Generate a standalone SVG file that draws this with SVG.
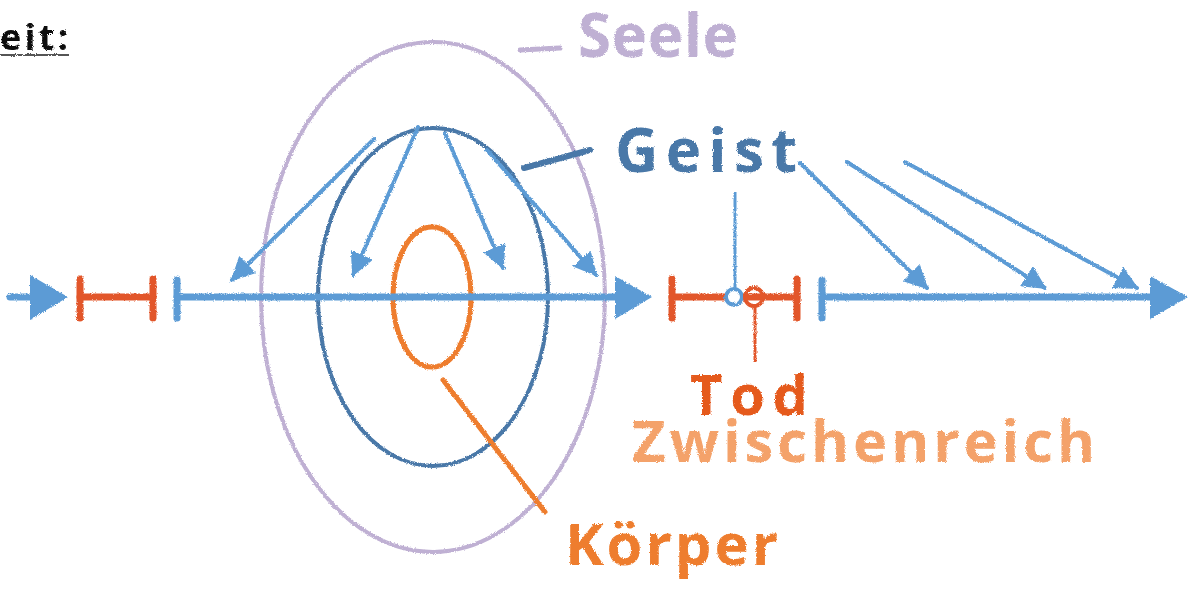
<svg xmlns="http://www.w3.org/2000/svg" width="1192" height="598" viewBox="0 0 1192 598">
<defs>
<filter id="rough" x="-5%" y="-5%" width="110%" height="110%">
<feTurbulence type="fractalNoise" baseFrequency="0.9" numOctaves="2" seed="3" result="n"/>
<feDisplacementMap in="SourceGraphic" in2="n" scale="3" xChannelSelector="R" yChannelSelector="G"/>
</filter>
<marker id="ah" viewBox="0 0 24 24" refX="22" refY="12" markerWidth="24" markerHeight="24" markerUnits="userSpaceOnUse" orient="auto">
<path d="M0,0 L24,12 L0,24 Z" fill="#5b9bd5"/>
</marker>
<linearGradient id="fade" x1="0" y1="0" x2="0" y2="1">
<stop offset="0" stop-color="#fff" stop-opacity="0.35"/>
<stop offset="1" stop-color="#fff" stop-opacity="0"/>
</linearGradient>
<mask id="refl" maskUnits="userSpaceOnUse" x="0" y="318" width="1192" height="26">
<rect x="0" y="318" width="1192" height="26" fill="url(#fade)"/>
</mask>
<style>
.tl{stroke:#5b9bd5;stroke-width:7;fill:none;stroke-linecap:round}
.rd{stroke:#e2572a;stroke-width:7;fill:none;stroke-linecap:round}
.ar{stroke:#5b9bd5;stroke-width:4;fill:none;stroke-linecap:round}
.hd{fill:#5b9bd5}
.lbl{font-family:"Open Sans","Noto Sans",sans-serif;font-weight:700}
</style>
</defs>
<rect width="1192" height="598" fill="#fff"/>
<g filter="url(#rough)">
<g id="title">
<text class="lbl" x="-24" y="50" font-size="36" fill="#111" textLength="92">Zeit:</text>
<line x1="0" y1="55" x2="70" y2="55" stroke="#555" stroke-width="2"/>
</g>
<g id="seele">
<ellipse cx="433" cy="297" rx="172" ry="255" fill="none" stroke="#bfb0d3" stroke-width="4"/>
<line x1="520" y1="50" x2="560" y2="48" stroke="#bfb0d3" stroke-width="5" stroke-linecap="round"/>
<text class="lbl" x="578" y="57" font-size="60" fill="#bfb0d3" textLength="160">Seele</text>
</g>
<g id="geist">
<ellipse cx="433" cy="297" rx="115" ry="169" fill="none" stroke="#4a78a8" stroke-width="4"/>
<line x1="524" y1="168" x2="590" y2="150" stroke="#4a78a8" stroke-width="6" stroke-linecap="round"/>
<text class="lbl" x="615" y="172" font-size="60" fill="#4a78a8" textLength="182">Geist</text>
</g>
<g id="koerper">
<ellipse cx="432" cy="297" rx="39" ry="70" fill="none" stroke="#ee7d2e" stroke-width="5"/>
<line x1="443" y1="380" x2="545" y2="512" stroke="#ee7d2e" stroke-width="5" stroke-linecap="round"/>
<text class="lbl" x="565" y="565" font-size="58" fill="#ee7d2e" textLength="213">Körper</text>
</g>
<g id="timeline">
<line class="tl" x1="10" y1="297" x2="40" y2="297"/>
<polygon class="hd" points="30,275 68,297 30,320"/>
<line class="rd" x1="80" y1="297" x2="153" y2="297"/>
<line class="rd" x1="80" y1="279" x2="80" y2="318"/>
<line class="rd" x1="153" y1="279" x2="153" y2="318"/>
<line class="tl" x1="177" y1="280" x2="177" y2="318"/>
<line class="tl" x1="177" y1="297" x2="620" y2="297"/>
<polygon class="hd" points="615,276 652,297 615,319"/>
<line class="rd" x1="672" y1="297" x2="797" y2="297"/>
<line class="rd" x1="672" y1="279" x2="672" y2="318"/>
<line class="rd" x1="797" y1="279" x2="797" y2="318"/>
<line class="tl" x1="822" y1="280" x2="822" y2="318"/>
<line class="tl" x1="822" y1="297" x2="1155" y2="297"/>
<polygon class="hd" points="1150,276 1188,297 1150,319"/>
</g>
<g id="tod">
<line x1="735" y1="192" x2="735" y2="289" stroke="#5b9bd5" stroke-width="3"/>
<line x1="755" y1="306" x2="755" y2="362" stroke="#e2572a" stroke-width="3"/>
<circle cx="734" cy="297" r="8" fill="#fff" stroke="#5b9bd5" stroke-width="4"/>
<circle cx="754" cy="297" r="9" fill="none" stroke="#e2572a" stroke-width="4"/>
<text class="lbl" x="690" y="415" font-size="56" fill="#e55a1e" textLength="118">Tod</text>
</g>
<g id="zwischenreich">
<text class="lbl" x="632" y="462" font-size="58" fill="#f4a26a" textLength="463">Zwischenreich</text>
</g>
<g id="connectors">
<line class="ar" x1="374" y1="139" x2="232" y2="280" marker-end="url(#ah)"/>
<line class="ar" x1="418" y1="127" x2="353" y2="275" marker-end="url(#ah)"/>
<line class="ar" x1="445" y1="133" x2="503" y2="268" marker-end="url(#ah)"/>
<line class="ar" x1="487" y1="150" x2="596" y2="275" marker-end="url(#ah)"/>
<line class="ar" x1="800" y1="163" x2="927" y2="288" marker-end="url(#ah)"/>
<line class="ar" x1="847" y1="162" x2="1045" y2="288" marker-end="url(#ah)"/>
<line class="ar" x1="905" y1="162" x2="1137" y2="288" marker-end="url(#ah)"/>
</g>
</g>
<g id="reflection" mask="url(#refl)" transform="translate(0,638) scale(1,-1)">
<polygon class="hd" points="30,275 68,297 30,320"/>
<line class="rd" x1="80" y1="279" x2="80" y2="318"/>
<line class="rd" x1="153" y1="279" x2="153" y2="318"/>
<line class="tl" x1="177" y1="280" x2="177" y2="318"/>
<polygon class="hd" points="615,276 652,297 615,319"/>
<line class="rd" x1="672" y1="279" x2="672" y2="318"/>
<line class="rd" x1="797" y1="279" x2="797" y2="318"/>
<line class="tl" x1="822" y1="280" x2="822" y2="318"/>
<polygon class="hd" points="1150,276 1188,297 1150,319"/>
</g>
</svg>
